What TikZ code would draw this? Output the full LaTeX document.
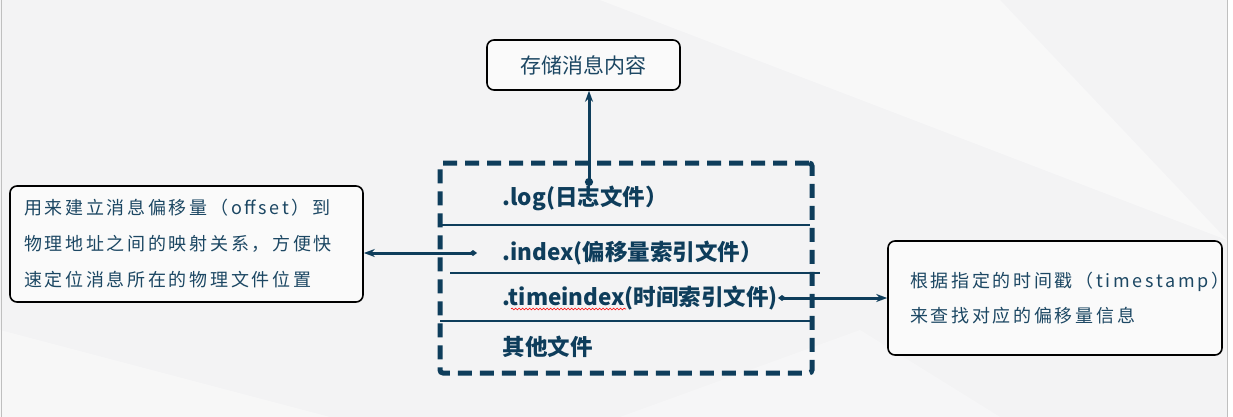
\documentclass[tikz,border=0pt]{standalone}
\usepackage{fontspec}
\setmainfont{Noto Sans CJK SC}
\newfontfamily\notefont[LetterSpace=15]{Noto Sans CJK SC}
\usetikzlibrary{arrows.meta,decorations.pathmorphing}
\definecolor{navy}{HTML}{0E3D5B}
\definecolor{inktext}{HTML}{1C4763}
\definecolor{paper}{HTML}{F3F3F4}
\tikzset{
  notebox/.style={draw=black, line width=1.6pt, rounded corners=7pt, fill=white!55!paper, text=inktext, inner sep=0pt},
  filelabel/.style={anchor=west, text=navy, font=\fontsize{22.5}{26}\selectfont\bfseries},
  sepline/.style={draw=navy, line width=2pt},
  link/.style={draw=navy, line width=3pt},
}
\begin{document}
\begin{tikzpicture}[x=1pt,y=-1pt]
\useasboundingbox (0,0) rectangle (1233,417);
% background
\fill[paper] (0,0) rectangle (1233,417);
\fill[white,opacity=0.45] (600,0) -- (1000,0) -- (1227,240) -- cycle;
\fill[white,opacity=0.35] (0,330) -- (330,417) -- (0,417) -- cycle;
\fill[white,opacity=0.3] (620,417) -- (860,330) -- (1000,417) -- cycle;
\draw[black!25, line width=1pt] (1.5,0) -- (1.5,417);
\draw[black!25, line width=1pt] (1227,0) -- (1227,417);
\fill[white] (1227.5,0) rectangle (1233,417);

% file frame
\node[draw=navy, line width=5pt, dash pattern=on 14pt off 8pt, rounded corners=3pt, minimum width=372pt, minimum height=210pt] (frame) at (626,268) {};
\draw[sepline] (440,225) -- (810,225);
\draw[sepline] (450,273) -- (820,273);
\draw[sepline] (440,321) -- (810,321);

\node[filelabel] (logf) at (499,198) {.log(日志文件）};
\node[filelabel] (indexf) at (499,253) {.index(偏移量索引文件）};
\node[filelabel] (timef) at (499,298) {.timeindex(时间索引文件)};
\node[filelabel] (otherf) at (499,347) {其他文件};
\draw[red, line width=0.6pt, decorate, decoration={snake, amplitude=0.9pt, segment length=3.5pt}] (511,309) -- (626,309);

% notes
\node[notebox, minimum width=193pt, minimum height=50pt, font=\fontsize{21}{24}\selectfont] (store) at (583.5,65) {存储消息内容};
\node[notebox, minimum width=353pt, minimum height=116pt, text width=325pt, align=left, font=\notefont\fontsize{18}{36}\selectfont] (offsetnote) at (186.5,244) {用来建立消息偏移量（offset）到\\物理地址之间的映射关系，方便快\\速定位消息所在的物理文件位置};
\node[notebox, minimum width=334pt, minimum height=114pt, text width=290pt, align=left, font=\notefont\fontsize{18}{35}\selectfont] (timenote) at (1055,298) {根据指定的时间戳（timestamp）\\来查找对应的偏移量信息};

% connectors
\coordinate (logdot) at (589,186);
\coordinate (idxdot) at (477,253);
\coordinate (timedot) at (778,298);
\draw[link, {Circle[length=8pt]}-{Stealth[length=11pt,width=8pt]}] (logdot) -- (logdot |- store.south);
\draw[link, {Diamond[length=8pt,width=6pt]}-{Stealth[length=11pt,width=8pt]}] (idxdot) -- (idxdot -| offsetnote.east);
\draw[link, {Diamond[length=8pt,width=6pt]}-{Stealth[length=11pt,width=8pt]}] (timedot) -- (timedot -| timenote.west);
\end{tikzpicture}
\end{document}
